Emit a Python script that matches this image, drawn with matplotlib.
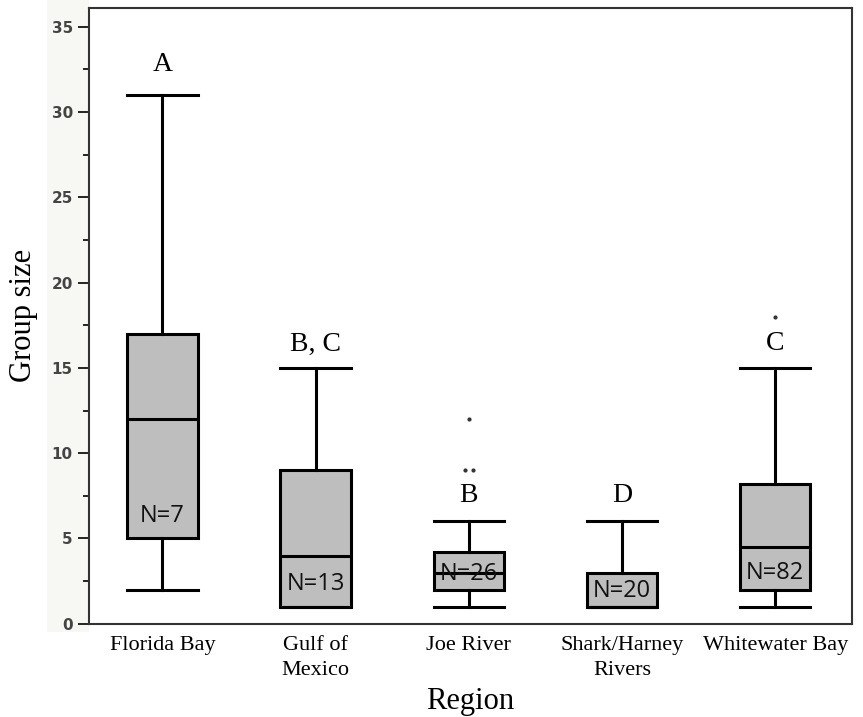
import numpy as np
import matplotlib.pyplot as plt
from matplotlib.ticker import MultipleLocator
from matplotlib.patches import Rectangle

# Daten
regions = ['Florida Bay', 'Gulf of\nMexico', 'Joe River', 'Shark/Harney\nRivers', 'Whitewater Bay']
whisker_low = [2, 1, 1, 1, 1]
q1 = [5, 1, 2, 1, 2]
median = [12, 4, 3, 1, 4.5]
q3 = [17, 9, 4.2, 3, 8.2]
whisker_high = [31, 15, 6, 6, 15]
outliers = [[], [], [9, 9, 12], [], [18]]
group_letters = ['A', 'B, C', 'B', 'D', 'C']
letter_y = [32.8, 16.4, 7.5, 7.5, 16.4]
n_counts = [7, 13, 26, 20, 82]
n_y = [6.3, 2.35, 2.9, 1.9, 3.0]

fig = plt.figure(figsize=(8.63, 7.17), dpi=100)
# leicht grauer Streifen hinter den y-Beschriftungen
fig.patches.append(Rectangle((47 / 863, 85 / 717), 42 / 863, 632 / 717,
                             transform=fig.transFigure, facecolor='#f7f7f3',
                             edgecolor='none', zorder=0))
ax = fig.add_axes([0.103, 0.13, 0.884, 0.859])
ax.set_zorder(2)

stats = []
for i in range(len(regions)):
    stats.append({'whislo': whisker_low[i], 'q1': q1[i], 'med': median[i],
                  'q3': q3[i], 'whishi': whisker_high[i], 'fliers': []})

pos = np.arange(len(regions))
ax.bxp(stats, positions=pos, widths=0.46, patch_artist=True, showfliers=False,
       boxprops=dict(facecolor='#bebebe', edgecolor='black', linewidth=2.2),
       medianprops=dict(color='black', linewidth=2.2),
       whiskerprops=dict(color='black', linewidth=2.2),
       capprops=dict(color='black', linewidth=2.2),
       capwidths=0.46)

# Ausreißer als kleine Punkte (doppelte Werte leicht versetzt)
for i, pts in enumerate(outliers):
    seen = {}
    for v in pts:
        k = seen.get(v, 0)
        seen[v] = k + 1
        cnt = pts.count(v)
        off = (k - (cnt - 1) / 2) * 0.05
        ax.plot(pos[i] + off, v, 'o', color='#333333', markersize=2)

for i in range(len(regions)):
    ax.text(pos[i], letter_y[i], group_letters[i], ha='center', va='center',
            fontsize=20, family='Liberation Serif')
    ax.text(pos[i], n_y[i], 'N=%d' % n_counts[i], ha='center', va='center',
            fontsize=17, family='Open Sans', color='#111111')

ax.set_xlim(-0.48, 4.5)
ax.set_ylim(0, 36.1)
ax.yaxis.set_major_locator(MultipleLocator(5))
ax.yaxis.set_minor_locator(MultipleLocator(2.5))
ax.set_xticks(pos)
ax.set_xticklabels(regions, family='Liberation Serif', fontsize=16, linespacing=1.4)
ax.tick_params(axis='x', length=0, pad=9)
ax.tick_params(axis='y', which='major', length=8, width=1.2, labelsize=11, labelcolor='#444444')
ax.tick_params(axis='y', which='minor', length=4, width=1.2)
for lab in ax.get_yticklabels():
    lab.set_fontweight('bold')
for s in ax.spines.values():
    s.set_linewidth(1.5)
    s.set_color('#333333')

ax.set_ylabel('Group size', family='Liberation Serif', fontsize=22, labelpad=10)
ax.set_xlabel('Region', family='Liberation Serif', fontsize=22, labelpad=5)

fig.savefig('out.png', dpi=100)
